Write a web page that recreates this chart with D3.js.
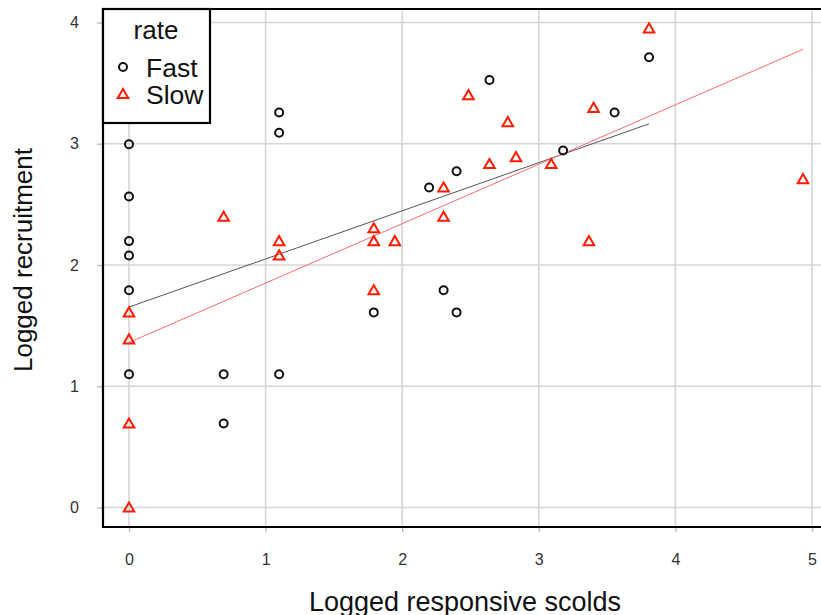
<!DOCTYPE html>
<html>
<head>
<meta charset="utf-8">
<script src="https://cdn.jsdelivr.net/npm/d3@7"></script>
<style>
  body { margin: 0; background: #fff; }
  svg { display: block; font-family: "Liberation Sans", Arial, sans-serif; }
</style>
</head>
<body>
<svg width="821" height="615"></svg>
<script>
// Fast rate points (logged responsive scolds, logged recruitment)
var fastX = [0, 0, 0, 0, 0, 0, 0.693, 0.693, 1.099, 1.099, 1.099, 1.792, 2.197, 2.303, 2.398, 2.398, 2.639, 3.178, 3.555, 3.807];
var fastY = [2.996, 2.565, 2.197, 2.079, 1.792, 1.099, 1.099, 0.693, 3.258, 3.091, 1.099, 1.609, 2.639, 1.792, 2.773, 1.609, 3.526, 2.944, 3.258, 3.714];

// Slow rate points
var slowX = [0, 0, 0, 0, 0.693, 1.099, 1.099, 1.792, 1.792, 1.792, 1.946, 2.303, 2.303, 2.485, 2.639, 2.773, 2.833, 3.091, 3.367, 3.401, 3.807, 4.934];
var slowY = [0, 0.693, 1.386, 1.609, 2.398, 2.197, 2.079, 2.303, 2.197, 1.792, 2.197, 2.639, 2.398, 3.401, 2.833, 3.178, 2.890, 2.833, 2.197, 3.296, 3.951, 2.708];

// fitted lines: [intercept, slope, xmin, xmax]
var fastFit = [1.653, 0.397, 0, 3.807];
var slowFit = [1.361, 0.490, 0, 4.934];

var xTicks = [0, 1, 2, 3, 4, 5];
var yTicks = [0, 1, 2, 3, 4];
var legendLabels = ["Fast", "Slow"];

var svg = d3.select("svg");

var x = d3.scaleLinear().domain([0, 5]).range([129, 812]);
var y = d3.scaleLinear().domain([0, 4]).range([507.5, 22.5]);

var panel = {left: 103, top: 9, bottom: 527, right: 840};

// grid lines
svg.append("g").selectAll("line")
    .data(xTicks).enter().append("line")
    .attr("x1", d => x(d)).attr("x2", d => x(d))
    .attr("y1", panel.top).attr("y2", panel.bottom)
    .attr("stroke", "#d6d6d6").attr("stroke-width", 1.6);

svg.append("g").selectAll("line")
    .data(yTicks).enter().append("line")
    .attr("x1", panel.left).attr("x2", panel.right)
    .attr("y1", d => y(d)).attr("y2", d => y(d))
    .attr("stroke", "#d6d6d6").attr("stroke-width", 1.6);

// axes
var xAxis = svg.append("g")
    .attr("transform", "translate(0," + panel.bottom + ")")
    .call(d3.axisBottom(x).tickValues(xTicks).tickSize(5).tickPadding(22).tickFormat(d3.format("d")));
var yAxis = svg.append("g")
    .attr("transform", "translate(" + panel.left + ",0)")
    .call(d3.axisLeft(y).tickValues(yTicks).tickSize(6).tickPadding(18).tickFormat(d3.format("d")));

[xAxis, yAxis].forEach(function(a) {
  a.select(".domain").remove();
  a.selectAll(".tick line").attr("stroke", "#bdbdbd").attr("stroke-width", 1.4);
  a.selectAll(".tick text")
    .attr("fill", "#333")
    .style("font-size", "16px")
    .style("font-family", "Liberation Sans, Arial, sans-serif");
});

// fit lines
function fitLine(f, color) {
  svg.append("line")
    .attr("x1", x(f[2])).attr("y1", y(f[0] + f[1] * f[2]))
    .attr("x2", x(f[3])).attr("y2", y(f[0] + f[1] * f[3]))
    .attr("stroke", color).attr("stroke-width", 1);
}
fitLine(fastFit, "#555");
fitLine(slowFit, "#ff6a6a");

// points
var tri = d3.symbol().type(d3.symbolTriangle).size(48);

svg.append("g").selectAll("circle")
    .data(d3.zip(fastX, fastY)).enter().append("circle")
    .attr("cx", d => x(d[0])).attr("cy", d => y(d[1]))
    .attr("r", 4)
    .attr("fill", "none").attr("stroke", "#111").attr("stroke-width", 2);

svg.append("g").selectAll("path")
    .data(d3.zip(slowX, slowY)).enter().append("path")
    .attr("d", tri)
    .attr("transform", d => "translate(" + x(d[0]) + "," + (y(d[1]) + 1) + ")")
    .attr("fill", "none").attr("stroke", "#ff1a00").attr("stroke-width", 2);

// panel border (right side falls outside the view)
svg.append("path")
    .attr("d", "M" + panel.right + "," + panel.top + "H" + panel.left + "V" + panel.bottom + "H" + panel.right)
    .attr("fill", "none").attr("stroke", "#000").attr("stroke-width", 2.2);

// legend
var lg = svg.append("g");
lg.append("rect")
    .attr("x", 103).attr("y", 9).attr("width", 107).attr("height", 114)
    .attr("fill", "#fff").attr("stroke", "#000").attr("stroke-width", 2.2);
lg.append("text").attr("x", 156).attr("y", 39)
    .attr("text-anchor", "middle").style("font-size", "26px").attr("fill", "#111")
    .text("rate");
lg.append("circle").attr("cx", 123).attr("cy", 67).attr("r", 4)
    .attr("fill", "none").attr("stroke", "#111").attr("stroke-width", 2);
lg.append("path").attr("d", tri)
    .attr("transform", "translate(123,95)")
    .attr("fill", "none").attr("stroke", "#ff1a00").attr("stroke-width", 2);
lg.selectAll("text.lab")
    .data(legendLabels).enter().append("text")
    .attr("class", "lab")
    .attr("x", 146).attr("y", (d, i) => 77 + i * 27)
    .style("font-size", "26.5px").attr("fill", "#111")
    .text(d => d);

// axis titles
svg.append("text")
    .attr("x", 465).attr("y", 611)
    .attr("text-anchor", "middle").style("font-size", "27px").attr("fill", "#111")
    .text("Logged responsive scolds");
svg.append("text")
    .attr("transform", "translate(32,260) rotate(-90)")
    .attr("text-anchor", "middle").style("font-size", "26px").attr("fill", "#111")
    .text("Logged recruitment");
</script>
</body>
</html>
